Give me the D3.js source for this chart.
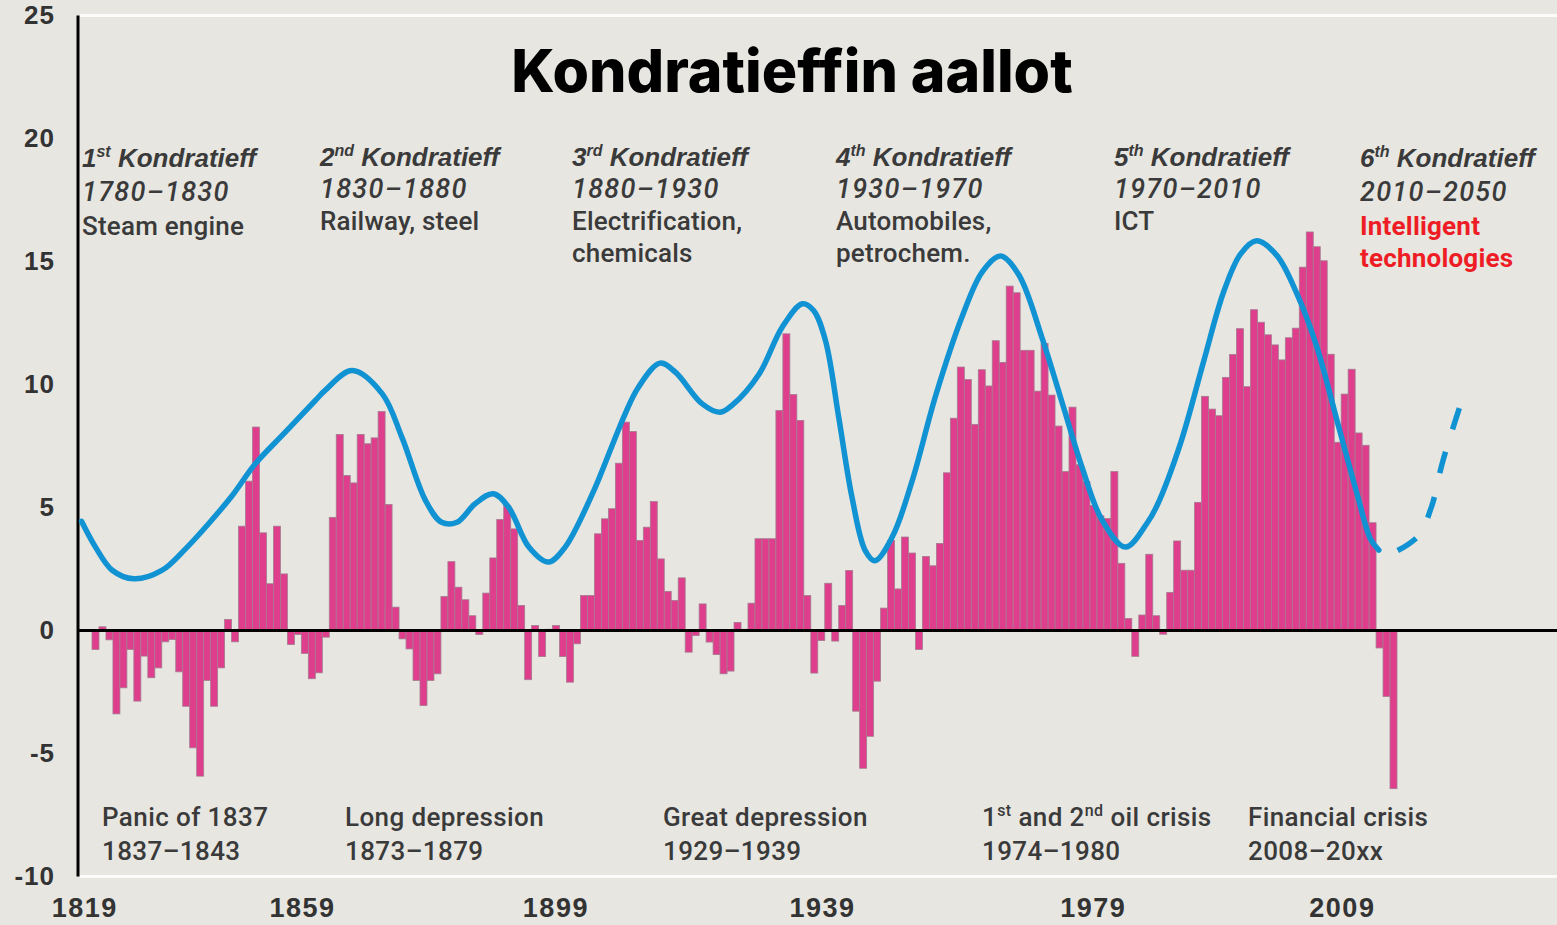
<!DOCTYPE html>
<html>
<head>
<meta charset="utf-8">
<script src="https://cdn.jsdelivr.net/npm/d3@7"></script>
<style>
  html, body { margin: 0; padding: 0; background: #e7e6e1; }
  svg { display: block; }
  .note { font-family: Roboto, 'Liberation Sans', Arial, sans-serif; fill: #3a3a3a; font-weight: 500; }
  .note .head { font-family: 'Liberation Sans', Arial, sans-serif; }
  .tick text { font-family: 'Liberation Sans', Arial, sans-serif; font-weight: bold; fill: #333; }
</style>
</head>
<body>
<svg id="chart"></svg>
<script>
const w = 1557, h = 925;

// yearly growth bars (first bar = 1819)
const years = d3.range(1819, 2006);
const growth = [
  -0.77, 0.15, -0.38, -3.39, -2.33, -0.77, -2.87, -1.04, -1.92, -1.52,
  -0.46, -0.37, -1.68, -3.08, -4.77, -5.92, -2.03, -3.08, -1.52, 0.45,
  -0.46, 4.24, 6.07, 8.27, 3.97, 1.90, 4.24, 2.30, -0.57, -0.16,
  -0.93, -1.96, -1.72, -0.27, 4.60, 7.97, 6.30, 6.00, 7.97, 7.59,
  7.83, 8.90, 5.12, 0.95, -0.34, -0.75, -2.03, -3.05, -2.03, -1.76,
  1.38, 2.80, 1.76, 1.25, 0.60, -0.16, 1.52, 2.95, 4.51, 5.08,
  4.13, 1.02, -2.00, 0.20, -1.06, 0.05, 0.20, -1.06, -2.10, -0.54,
  1.42, 1.42, 3.93, 4.54, 4.95, 6.80, 8.47, 8.09, 3.66, 4.20,
  5.24, 2.91, 1.59, 1.22, 2.14, -0.88, -0.20, 1.08, -0.47, -0.98,
  -1.76, -1.65, 0.33, 0.05, 1.11, 3.73, 3.73, 3.73, 8.94, 12.06,
  9.59, 8.54, 1.42, -1.73, -0.41, 1.92, -0.43, 1.02, 2.44, -3.28,
  -5.60, -4.30, -2.06, 0.91, 3.66, 1.69, 3.80, 3.15, -0.77, 3.01,
  2.63, 3.54, 6.41, 8.63, 10.71, 10.20, 8.38, 10.60, 9.94, 11.78,
  10.90, 14.00, 13.73, 11.39, 11.39, 9.73, 11.67, 9.57, 8.31, 6.46,
  9.08, 6.74, 6.06, 5.08, 4.66, 4.55, 6.46, 2.73, 0.49, -1.05,
  0.63, 3.10, 0.60, -0.15, 1.55, 3.64, 2.45, 2.45, 5.21, 9.52,
  9.00, 8.73, 10.29, 11.22, 12.27, 9.91, 13.04, 12.53, 12.02, 11.61,
  11.00, 11.90, 12.29, 14.77, 16.20, 15.60, 15.03, 11.23, 7.65, 9.61,
  10.62, 8.03, 7.53, 4.38, -0.71, -2.68, -6.43
];

// the blue wave (solid) and its dashed forecast
const waveYears = [
  1817.0, 1819.0, 1821.4, 1824.5, 1828.5, 1831.9, 1835.2, 1838.6, 1841.9, 1846.2,
  1850.5, 1851.9, 1855.8, 1860.1, 1862.9, 1866.3, 1868.6, 1870.8, 1873.4, 1876.0,
  1878.2, 1881.1, 1883.9, 1886.3, 1890.6, 1892.0, 1894.9, 1896.8, 1899.9, 1902.1,
  1905.9, 1908.5, 1910.2, 1914.1, 1917.4, 1920.3, 1921.9, 1923.6, 1925.5, 1927.4,
  1929.3, 1930.7, 1933.2, 1936.0, 1939.4, 1943.2, 1946.1, 1948.7, 1951.3, 1954.6,
  1957.5, 1960.4, 1963.2, 1966.6, 1969.7, 1971.1, 1974.5, 1977.8, 1980.7, 1983.1,
  1985.4, 1988.3, 1991.2, 1994.0, 1996.9, 1999.8, 2001.7, 2002.9
];
const waveValues = [
  4.44, 3.39, 2.45, 2.10, 2.44, 3.32, 4.34, 5.49, 6.78, 8.06,
  9.35, 9.76, 10.57, 9.62, 7.86, 5.28, 4.40, 4.40, 5.15, 5.56,
  5.01, 3.39, 2.78, 3.39, 5.81, 6.78, 8.81, 9.89, 10.87, 10.50,
  9.22, 8.87, 9.15, 10.43, 12.33, 13.28, 13.01, 11.79, 8.67, 5.42,
  3.25, 2.84, 3.82, 6.06, 9.55, 12.77, 14.59, 15.22, 14.46, 11.93,
  9.28, 6.61, 4.51, 3.39, 4.37, 5.07, 7.63, 10.95, 13.80, 15.31,
  15.84, 15.24, 13.66, 11.54, 8.54, 5.53, 3.72, 3.27
];
const forecastYears = [2005.6, 2008.6, 2010.5, 2011.9, 2013.4, 2014.8];
const forecastValues = [3.25, 3.86, 5.08, 6.71, 8.13, 9.35];

const yTicks = [-10, -5, 0, 5, 10, 15, 20, 25];
const xTickLabels = ['1819', '1859', '1899', '1939', '1979', '2009'];
const xTickAt = [1817.4, 1848.6, 1884.9, 1923.1, 1961.9, 1997.6];

const title = 'Kondratieffin aallot';
const waveNotes = [
  { n: '1', sup: 'st', period: '1780–1830', tech: ['Steam engine'] },
  { n: '2', sup: 'nd', period: '1830–1880', tech: ['Railway, steel'] },
  { n: '3', sup: 'rd', period: '1880–1930', tech: ['Electrification,', 'chemicals'] },
  { n: '4', sup: 'th', period: '1930–1970', tech: ['Automobiles,', 'petrochem.'] },
  { n: '5', sup: 'th', period: '1970–2010', tech: ['ICT'] },
  { n: '6', sup: 'th', period: '2010–2050', tech: ['Intelligent', 'technologies'] }
];
// name pieces: [text, isSuperscript]
const crisisNotes = [
  { name: [['Panic of 1837']], period: '1837–1843' },
  { name: [['Long depression']], period: '1873–1879' },
  { name: [['Great depression']], period: '1929–1939' },
  { name: [['1'], ['st', true], [' and 2'], ['nd', true], [' oil crisis']], period: '1974–1980' },
  { name: [['Financial crisis']], period: '2008–20xx' }
];

const chart = d3.select('#chart').attr('width', w).attr('height', h);

const yScale = d3.scaleLinear().domain([-10, 25]).range([876.5, 15.5]);
const xBand = d3.scaleBand().domain(years).range([92, 1397]).padding(0);
const bw = xBand.bandwidth();
const xYear = d3.scaleLinear()
  .domain([years[0], years[years.length - 1]])
  .range([xBand(years[0]) + bw / 2, xBand(years[years.length - 1]) + bw / 2]);

const axisX = 78;

// white frame lines at top and bottom
chart.selectAll('.frame')
  .data([25, -10])
  .enter()
  .append('line')
  .attr('x1', axisX + 2).attr('x2', w)
  .attr('y1', d => yScale(d)).attr('y2', d => yScale(d))
  .attr('stroke', '#fbfbf9')
  .attr('stroke-width', 3);

// bars
chart.append('g')
  .selectAll('rect')
  .data(growth)
  .enter()
  .append('rect')
  .attr('x', (d, i) => xBand(years[i]))
  .attr('width', bw)
  .attr('y', d => yScale(Math.max(d, 0)))
  .attr('height', d => Math.abs(yScale(d) - yScale(0)))
  .attr('fill', '#df3e8c')
  .attr('stroke', '#a57a90')
  .attr('stroke-width', 0.8);

// zero line and left axis line
chart.append('line')
  .attr('x1', axisX).attr('x2', w)
  .attr('y1', yScale(0)).attr('y2', yScale(0))
  .attr('stroke', '#000').attr('stroke-width', 3);
chart.append('line')
  .attr('x1', axisX).attr('x2', axisX)
  .attr('y1', yScale(25)).attr('y2', yScale(-10))
  .attr('stroke', '#000').attr('stroke-width', 3);

// wave curve
const waveLine = d3.line()
  .x(d => xYear(d[0]))
  .y(d => yScale(d[1]))
  .curve(d3.curveCatmullRom.alpha(0.5));

chart.append('path')
  .datum(d3.zip(waveYears, waveValues))
  .attr('d', waveLine)
  .attr('fill', 'none')
  .attr('stroke', '#1193d3')
  .attr('stroke-width', 5.5)
  .attr('stroke-linecap', 'round');

chart.append('path')
  .datum(d3.zip(forecastYears, forecastValues))
  .attr('d', waveLine)
  .attr('fill', 'none')
  .attr('stroke', '#1193d3')
  .attr('stroke-width', 5.5)
  .attr('stroke-dasharray', '22 24');

// axes (plain hyphen for negatives, like the original)
chart.append('g')
  .attr('transform', `translate(${axisX}, 0)`)
  .call(d3.axisLeft(yScale).tickValues(yTicks).tickFormat(d => String(d)).tickSize(0).tickPadding(23))
  .call(g => g.select('.domain').remove())
  .selectAll('text')
  .style('font-size', '26px')
  .style('letter-spacing', '1px');

chart.append('g')
  .attr('transform', `translate(0, ${yScale(-10)})`)
  .call(d3.axisBottom(xYear).tickValues(xTickAt).tickFormat((d, i) => xTickLabels[i]).tickSize(0).tickPadding(21))
  .call(g => g.select('.domain').remove())
  .selectAll('text')
  .style('font-size', '27px')
  .style('letter-spacing', '1.5px');

// title
chart.append('text')
  .attr('x', 792)
  .attr('y', 92)
  .attr('text-anchor', 'middle')
  .attr('font-family', 'Inter, sans-serif')
  .attr('font-weight', 800)
  .attr('font-size', '59px')
  .attr('fill', '#000')
  .text(title);

// wave notes above the curve
const waveNoteX = [82, 320, 572, 836, 1114, 1360];
const waveNoteDy = [1, 0, 0, 0, 0, 1];
const notes = chart.append('g').attr('class', 'note');

waveNotes.forEach((d, i) => {
  const x = waveNoteX[i], top = 166 + waveNoteDy[i];
  const head = notes.append('text')
    .attr('class', 'head')
    .attr('x', x).attr('y', top)
    .attr('font-size', '26px').attr('font-weight', 'bold').attr('font-style', 'italic');
  head.append('tspan').text(d.n);
  head.append('tspan').attr('font-size', '16px').attr('dy', -10).text(d.sup);
  head.append('tspan').attr('dy', 10).text(' Kondratieff');

  notes.append('text')
    .attr('x', x).attr('y', top + 32 + waveNoteDy[i] * 2)
    .attr('font-size', '27px').attr('font-style', 'italic').attr('letter-spacing', '1.3px')
    .text(d.period);

  d.tech.forEach((t, j) => {
    notes.append('text')
      .attr('x', x).attr('y', top + 64 + waveNoteDy[i] * 4 + j * 32)
      .attr('font-size', '26px')
      .attr('letter-spacing', '0.2px')
      .attr('fill', i === 5 ? '#ee1d25' : null)
      .attr('font-weight', i === 5 ? 'bold' : null)
      .text(t);
  });
});

// crisis notes along the bottom
const crisisX = [102, 345, 663, 982, 1248];
crisisNotes.forEach((d, i) => {
  const t = notes.append('text')
    .attr('x', crisisX[i]).attr('y', 826)
    .attr('font-size', '26px')
    .attr('letter-spacing', '0.4px');
  d.name.forEach((part, j) => {
    t.append('tspan')
      .attr('font-size', part[1] ? '16px' : null)
      .attr('dy', part[1] ? -10 : (j > 0 ? 10 : 0))
      .text(part[0]);
  });
  notes.append('text')
    .attr('x', crisisX[i]).attr('y', 860)
    .attr('font-size', '26px')
    .attr('letter-spacing', '0.4px')
    .text(d.period);
});
</script>
</body>
</html>
